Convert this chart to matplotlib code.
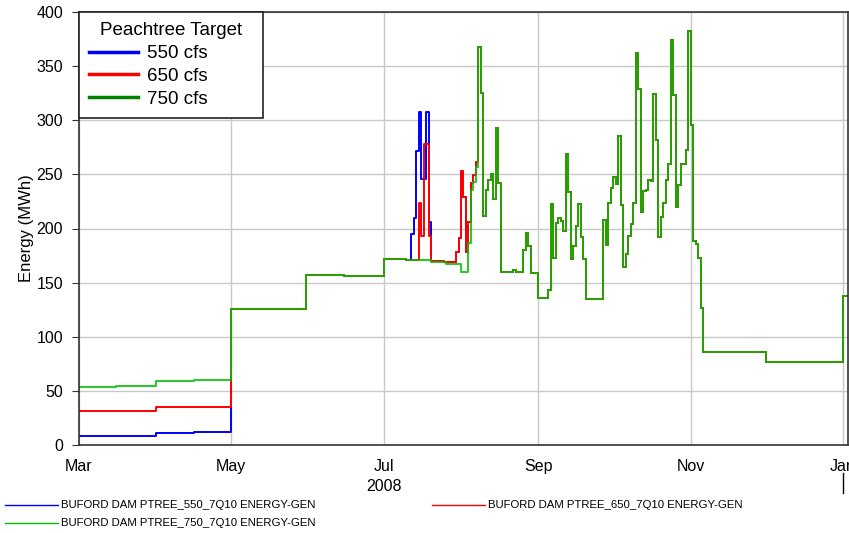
import numpy as np
import pandas as pd
import matplotlib
matplotlib.use("Agg")
import matplotlib.pyplot as plt
import matplotlib.dates as mdates
from matplotlib.lines import Line2D

plt.rcParams['font.family'] = ['Liberation Sans', 'DejaVu Sans']

# spring (Mar-Apr), each target differs
spring_dates = ["2008-03-01", "2008-03-16", "2008-04-01", "2008-04-16"]
blue_spring = [8, 8.3, 11.5, 12]
red_spring = [31, 31.5, 35, 35.5]
green_spring = [53.5, 54.5, 59, 60]

# May - early July, same for all
summer_dates = ["2008-05-01", "2008-05-16", "2008-05-31", "2008-06-15",
                "2008-07-01"]
summer_vals = [126, 125.5, 157, 156, 172]

# mid July - early August
blue_mid_dates = ["2008-07-10", "2008-07-12", "2008-07-13", "2008-07-14",
                  "2008-07-15", "2008-07-16", "2008-07-18", "2008-07-19",
                  "2008-07-20", "2008-07-25"]
blue_mid = [171, 195, 210, 272, 308, 246, 308, 206, 170, 169]
red_mid_dates = ["2008-07-10", "2008-07-15", "2008-07-16", "2008-07-17",
                 "2008-07-19", "2008-07-20", "2008-07-25"]
red_mid = [171, 224, 193, 278, 193, 170, 169]
late_july_dates = ["2008-07-30", "2008-07-31", "2008-08-01", "2008-08-02",
                   "2008-08-03", "2008-08-04", "2008-08-05", "2008-08-06",
                   "2008-08-07"]
late_july = [178, 191, 253, 229, 178, 206, 242, 249, 261]
green_mid_dates = ["2008-07-10", "2008-07-20", "2008-07-26", "2008-08-01",
                   "2008-08-04", "2008-08-05", "2008-08-06", "2008-08-07"]
green_mid = [171, 169, 167, 160, 187, 236, 243, 257]

# August to end, same for all
fall_dates = ["2008-08-08", "2008-08-09", "2008-08-10", "2008-08-11",
              "2008-08-12", "2008-08-13", "2008-08-14", "2008-08-15",
              "2008-08-16", "2008-08-17", "2008-08-22", "2008-08-23",
              "2008-08-26", "2008-08-27", "2008-08-28", "2008-08-29",
              "2008-09-01", "2008-09-05", "2008-09-06", "2008-09-07",
              "2008-09-08", "2008-09-09", "2008-09-10", "2008-09-11",
              "2008-09-12", "2008-09-13", "2008-09-14", "2008-09-15",
              "2008-09-16", "2008-09-17", "2008-09-18", "2008-09-19",
              "2008-09-20", "2008-09-27", "2008-09-28", "2008-09-29",
              "2008-09-30", "2008-10-01", "2008-10-02", "2008-10-03",
              "2008-10-04", "2008-10-05", "2008-10-06", "2008-10-07",
              "2008-10-08", "2008-10-09", "2008-10-10", "2008-10-11",
              "2008-10-12", "2008-10-13", "2008-10-14", "2008-10-15",
              "2008-10-16", "2008-10-17", "2008-10-18", "2008-10-19",
              "2008-10-20", "2008-10-21", "2008-10-22", "2008-10-23",
              "2008-10-24", "2008-10-25", "2008-10-26", "2008-10-27",
              "2008-10-28", "2008-10-30", "2008-10-31", "2008-11-01",
              "2008-11-02", "2008-11-03", "2008-11-04", "2008-11-05",
              "2008-11-06", "2008-12-01", "2009-01-01", "2009-01-03"]
fall_vals = [368, 325, 212, 236,
             245, 250, 227, 293,
             242, 159.5, 162, 159.5,
             180.5, 196, 184, 159,
             136, 143, 223, 173,
             205, 210, 207, 197.5,
             268.5, 234, 172, 184,
             202, 223, 192, 172,
             135, 208, 185, 224,
             237, 247.5, 241, 285,
             222, 164.5, 176, 193,
             204, 224, 362, 329,
             215, 234.5, 236, 245,
             244, 324, 282, 192,
             211, 224, 245, 260,
             374, 323, 220, 240,
             260, 272.5, 382, 296,
             188, 186, 173, 126.6,
             86, 77, 138, 138]

series = [
    ("BUFORD DAM PTREE_550_7Q10 ENERGY-GEN", "#0000ff", 1.0,
     spring_dates + summer_dates + blue_mid_dates + late_july_dates + fall_dates,
     blue_spring + summer_vals + blue_mid + late_july + fall_vals),
    ("BUFORD DAM PTREE_650_7Q10 ENERGY-GEN", "#ff0000", 1.0,
     spring_dates + summer_dates + red_mid_dates + late_july_dates + fall_dates,
     red_spring + summer_vals + red_mid + late_july + fall_vals),
    ("BUFORD DAM PTREE_750_7Q10 ENERGY-GEN", "#00c000", 0.85,
     spring_dates + summer_dates + green_mid_dates + fall_dates,
     green_spring + summer_vals + green_mid + fall_vals),
]

W, H = 849, 533
fig = plt.figure(figsize=(W / 100, H / 100), dpi=100)
ax = fig.add_axes([79 / W, 1 - 445 / H, (848 - 79) / W, (445 - 12) / H])

for label, color, alpha, dates, vals in series:
    ax.plot(pd.to_datetime(dates), vals, drawstyle="steps-post",
            color=color, alpha=alpha, lw=1.4)

ax.set_xlim(pd.Timestamp("2008-03-01"), pd.Timestamp("2009-01-03"))
ax.set_ylim(0, 400)
ax.set_yticks(np.arange(0, 401, 50))
ax.xaxis.set_major_locator(mdates.MonthLocator(bymonth=[1, 3, 5, 7, 9, 11]))
ax.xaxis.set_major_formatter(mdates.DateFormatter("%b"))
ax.grid(True, color="#c8c8c8", lw=1)
ax.set_axisbelow(True)
ax.tick_params(axis="y", labelsize=11.5, length=5, pad=6.5, color="#333333")
ax.tick_params(axis="x", labelsize=11.5, length=0, pad=10)
for s in ax.spines.values():
    s.set_color("#333333")
    s.set_linewidth(1.2)
ax.set_ylabel("Energy (MWh)", fontsize=12, labelpad=2)

trans = ax.get_xaxis_transform()
ax.text(pd.Timestamp("2008-07-01"), -0.095, "2008", transform=trans,
        ha="center", va="center", fontsize=11.5)
ax.plot([pd.Timestamp("2009-01-01")] * 2, [-0.065, -0.111], transform=trans,
        color="black", lw=1, clip_on=False)

handles = [Line2D([], [], color="#0000ff", lw=2.5),
           Line2D([], [], color="#ff0000", lw=2.5),
           Line2D([], [], color="#008000", lw=2.5)]
leg = ax.legend(handles, ["550 cfs", "650 cfs", "750 cfs"],
                title="Peachtree Target", loc="upper left",
                bbox_to_anchor=(0, 1, 184 / 769, 0), mode="expand",
                borderaxespad=0, fontsize=13.5, title_fontsize=13.5,
                fancybox=False, framealpha=1, edgecolor="#222222",
                handlelength=2.6, labelspacing=0.3, handletextpad=0.5,
                borderpad=0.55)
leg.get_frame().set_linewidth(1.2)

# bottom legend
pos = [(5, 505), (432, 505), (5, 523)]
for (x0, y0), (label, color, alpha, dates, vals) in zip(pos, series):
    fig.add_artist(Line2D([x0 / W, (x0 + 53) / W], [1 - y0 / H, 1 - y0 / H],
                          color=color, lw=1))
    fig.text((x0 + 56) / W, 1 - y0 / H, label, fontsize=8.2,
             ha="left", va="center")

fig.savefig("out.png", dpi=100)
